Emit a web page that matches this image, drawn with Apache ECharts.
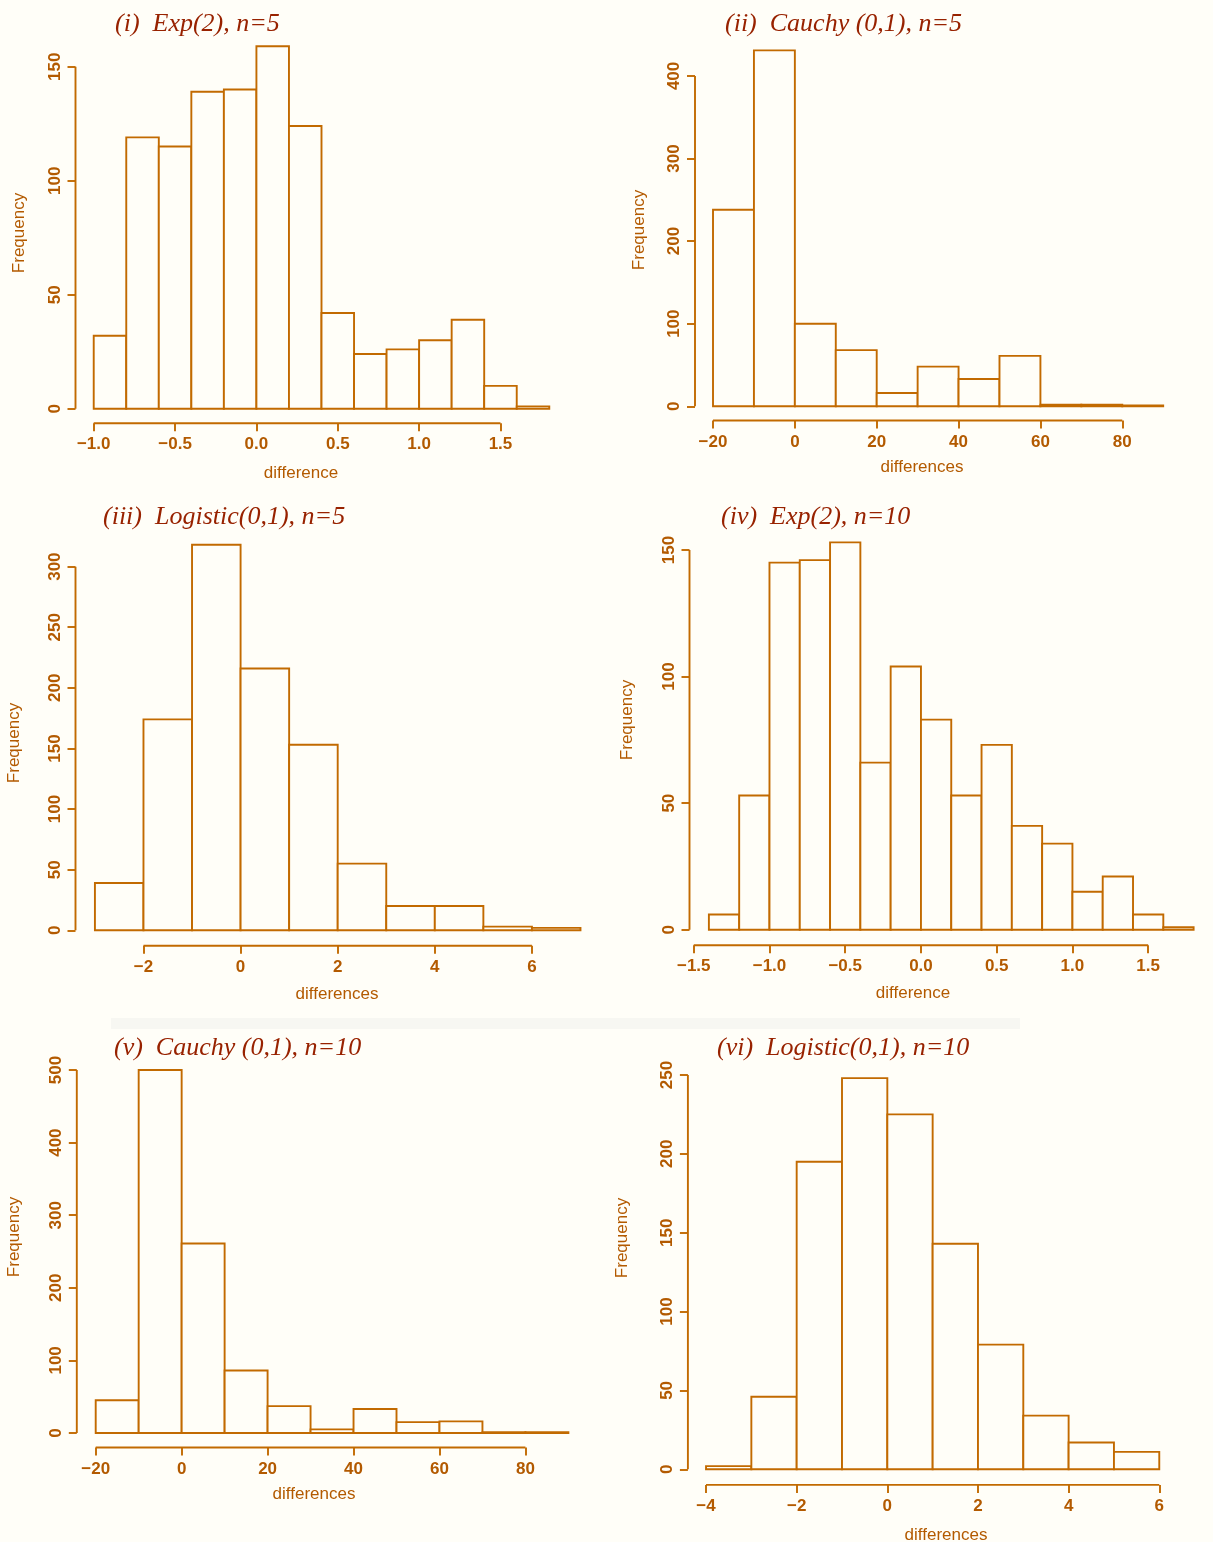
<!DOCTYPE html>
<html>
<head>
<meta charset="utf-8">
<script src="https://cdn.jsdelivr.net/npm/echarts@6/dist/echarts.min.js"></script>
<style>
html,body{margin:0;padding:0;background:#fffef8;}
#chart{width:1213px;height:1542px;}
</style>
</head>
<body>
<div id="chart"></div>
<script>
// ---------- DATA ----------
const p1Breaks = [-1.0,-0.8,-0.6,-0.4,-0.2,0.0,0.2,0.4,0.6,0.8,1.0,1.2,1.4,1.6,1.8];
const p1Counts = [32,119,115,139,140,159,124,42,24,26,30,39,10,1];
const p1XTicks = [-1.0,-0.5,0.0,0.5,1.0,1.5];
const p1XLabels = ["\u22121.0","\u22120.5","0.0","0.5","1.0","1.5"];
const p1YTicks = [0,50,100,150];

const p2Breaks = [-20,-10,0,10,20,30,40,50,60,70,80,90];
const p2Counts = [238,431,100,68,16,48,33,61,2,2,1];
const p2XTicks = [-20,0,20,40,60,80];
const p2XLabels = ["\u221220","0","20","40","60","80"];
const p2YTicks = [0,100,200,300,400];

const p3Breaks = [-3,-2,-1,0,1,2,3,4,5,6,7];
const p3Counts = [39,174,318,216,153,55,20,20,3,2];
const p3XTicks = [-2,0,2,4,6];
const p3XLabels = ["\u22122","0","2","4","6"];
const p3YTicks = [0,50,100,150,200,250,300];

const p4Breaks = [-1.4,-1.2,-1.0,-0.8,-0.6,-0.4,-0.2,0.0,0.2,0.4,0.6,0.8,1.0,1.2,1.4,1.6,1.8];
const p4Counts = [6,53,145,146,153,66,104,83,53,73,41,34,15,21,6,1];
const p4XTicks = [-1.5,-1.0,-0.5,0.0,0.5,1.0,1.5];
const p4XLabels = ["\u22121.5","\u22121.0","\u22120.5","0.0","0.5","1.0","1.5"];
const p4YTicks = [0,50,100,150];

const p5Breaks = [-20,-10,0,10,20,30,40,50,60,70,80,90];
const p5Counts = [45,500,261,86,37,5,33,15,16,1,1];
const p5XTicks = [-20,0,20,40,60,80];
const p5XLabels = ["\u221220","0","20","40","60","80"];
const p5YTicks = [0,100,200,300,400,500];

const p6Breaks = [-4,-3,-2,-1,0,1,2,3,4,5,6];
const p6Counts = [2,46,195,248,225,143,79,34,17,11];
const p6XTicks = [-4,-2,0,2,4,6];
const p6XLabels = ["\u22124","\u22122","0","2","4","6"];
const p6YTicks = [0,50,100,150,200,250];

const titles = ["(i)  Exp(2), n=5","(ii)  Cauchy (0,1), n=5","(iii)  Logistic(0,1), n=5",
                "(iv)  Exp(2), n=10","(v)  Cauchy (0,1), n=10","(vi)  Logistic(0,1), n=10"];
const xNames = ["difference","differences","differences","difference","differences","differences"];
const yName = "Frequency";

// ---------- LAYOUT / STYLE ----------
const BG = '#fffef8', LINE = '#c26a00', TEXT = '#b35a00', TITLE = '#982200';
const SANS = '"Liberation Sans", Arial, sans-serif';
const SERIF = '"Liberation Serif", "Times New Roman", serif';
const LW = 1.9;

const panels = [
  {breaks:p1Breaks, counts:p1Counts, xt:p1XTicks, xl:p1XLabels, yt:p1YTicks,
   grid:{left:75.5, top:31.7, width:492, height:391.5}, title:[115,24], yn:[19,233], xn:[301,473]},
  {breaks:p2Breaks, counts:p2Counts, xt:p2XTicks, xl:p2XLabels, yt:p2YTicks,
   grid:{left:695, top:36.1, width:486.2, height:384.4}, title:[725,24], yn:[639,230], xn:[922,467]},
  {breaks:p3Breaks, counts:p3Counts, xt:p3XTicks, xl:p3XLabels, yt:p3YTicks,
   grid:{left:75.5, top:529.4, width:524.4, height:416.3}, title:[103,517], yn:[14,743], xn:[337,994]},
  {breaks:p4Breaks, counts:p4Counts, xt:p4XTicks, xl:p4XLabels, yt:p4YTicks,
   grid:{left:689.5, top:526.9, width:528.8, height:418.3}, title:[721,517], yn:[627,720], xn:[913,993]},
  {breaks:p5Breaks, counts:p5Counts, xt:p5XTicks, xl:p5XLabels, yt:p5YTicks,
   grid:{left:76.8, top:1055.5, width:510.5, height:392}, title:[114,1048], yn:[14,1237], xn:[314,1494]},
  {breaks:p6Breaks, counts:p6Counts, xt:p6XTicks, xl:p6XLabels, yt:p6YTicks,
   grid:{left:687.9, top:1062.5, width:489.5, height:422.4}, title:[717,1048], yn:[622,1238], xn:[946,1535]}
];

const grids = [], xAxes = [], yAxes = [], series = [], graphics = [];

// faint band between rows
graphics.push({type:'rect', shape:{x:111, y:1018, width:909, height:11}, style:{fill:'#f7f7f2'}, z:-1});

panels.forEach((p, i) => {
  const xlo = p.breaks[0], xhi = p.breaks[p.breaks.length-1];
  const xspan = xhi - xlo;
  const ymax = Math.max(...p.counts);
  const xMin = xlo - 0.04*xspan, xMax = xhi + 0.04*xspan;
  const yMin = -0.04*ymax, yMax = 1.04*ymax;

  grids.push(Object.assign({containLabel:false}, p.grid));
  xAxes.push({
    type:'value', gridIndex:i, min:xMin, max:xMax, position:'bottom',
    axisLine:{show:false, onZero:false}, splitLine:{show:false},
    axisTick:{show:true, customValues:p.xt, length:8, lineStyle:{color:LINE, width:LW}},
    axisLabel:{customValues:p.xt, margin:13, color:TEXT, fontFamily:SANS, fontSize:17, fontWeight:'bold',
      formatter:(v)=>{const k=p.xt.findIndex(t=>Math.abs(t-v)<1e-9); return k>=0?p.xl[k]:'';}}
  });
  yAxes.push({
    type:'value', gridIndex:i, min:yMin, max:yMax, position:'left',
    axisLine:{show:false, onZero:false}, splitLine:{show:false},
    axisTick:{show:true, customValues:p.yt, length:8, lineStyle:{color:LINE, width:LW}},
    axisLabel:{customValues:p.yt, rotate:90, margin:12, color:TEXT, fontFamily:SANS, fontSize:17, fontWeight:'bold',
      formatter:(v)=>String(Math.round(v))}
  });

  // histogram bars
  const barData = p.counts.map((c, k) => [p.breaks[k], p.breaks[k+1], c]);
  series.push({
    type:'custom', xAxisIndex:i, yAxisIndex:i, clip:false, silent:true,
    encode:{x:[0,1], y:2},
    data:barData,
    renderItem:(params, api) => {
      const a = api.coord([api.value(0), api.value(2)]);
      const b = api.coord([api.value(1), 0]);
      return {type:'rect', shape:{x:a[0], y:a[1], width:b[0]-a[0], height:b[1]-a[1]},
              style:{fill:BG, stroke:LINE, lineWidth:LW}};
    }
  });
  // R-style axis lines spanning first..last tick
  series.push({
    type:'custom', xAxisIndex:i, yAxisIndex:i, clip:false, silent:true,
    data:[[xMin, yMin]],
    renderItem:(params, api) => {
      const y0 = api.coord([xMin, p.yt[0]]), y1 = api.coord([xMin, p.yt[p.yt.length-1]]);
      const x0 = api.coord([p.xt[0], yMin]), x1 = api.coord([p.xt[p.xt.length-1], yMin]);
      return {type:'group', children:[
        {type:'line', shape:{x1:y0[0], y1:y0[1], x2:y1[0], y2:y1[1]}, style:{stroke:LINE, lineWidth:LW}},
        {type:'line', shape:{x1:x0[0], y1:x0[1], x2:x1[0], y2:x1[1]}, style:{stroke:LINE, lineWidth:LW}}
      ]};
    }
  });

  graphics.push({type:'text', x:p.title[0], y:p.title[1],
    style:{text:titles[i], font:'italic 26px ' + SERIF, fill:TITLE, align:'left', verticalAlign:'middle'}});
  graphics.push({type:'text', x:p.yn[0], y:p.yn[1], rotation:Math.PI/2,
    style:{text:yName, font:'17px ' + SANS, fill:TEXT, align:'center', verticalAlign:'middle'}});
  graphics.push({type:'text', x:p.xn[0], y:p.xn[1],
    style:{text:xNames[i], font:'17px ' + SANS, fill:TEXT, align:'center', verticalAlign:'middle'}});
});

const chart = echarts.init(document.getElementById('chart'), null, {renderer:'canvas', width:1213, height:1542});
chart.setOption({
  backgroundColor:BG,
  animation:false,
  grid:grids, xAxis:xAxes, yAxis:yAxes, series:series, graphic:graphics
});
</script>
</body>
</html>
